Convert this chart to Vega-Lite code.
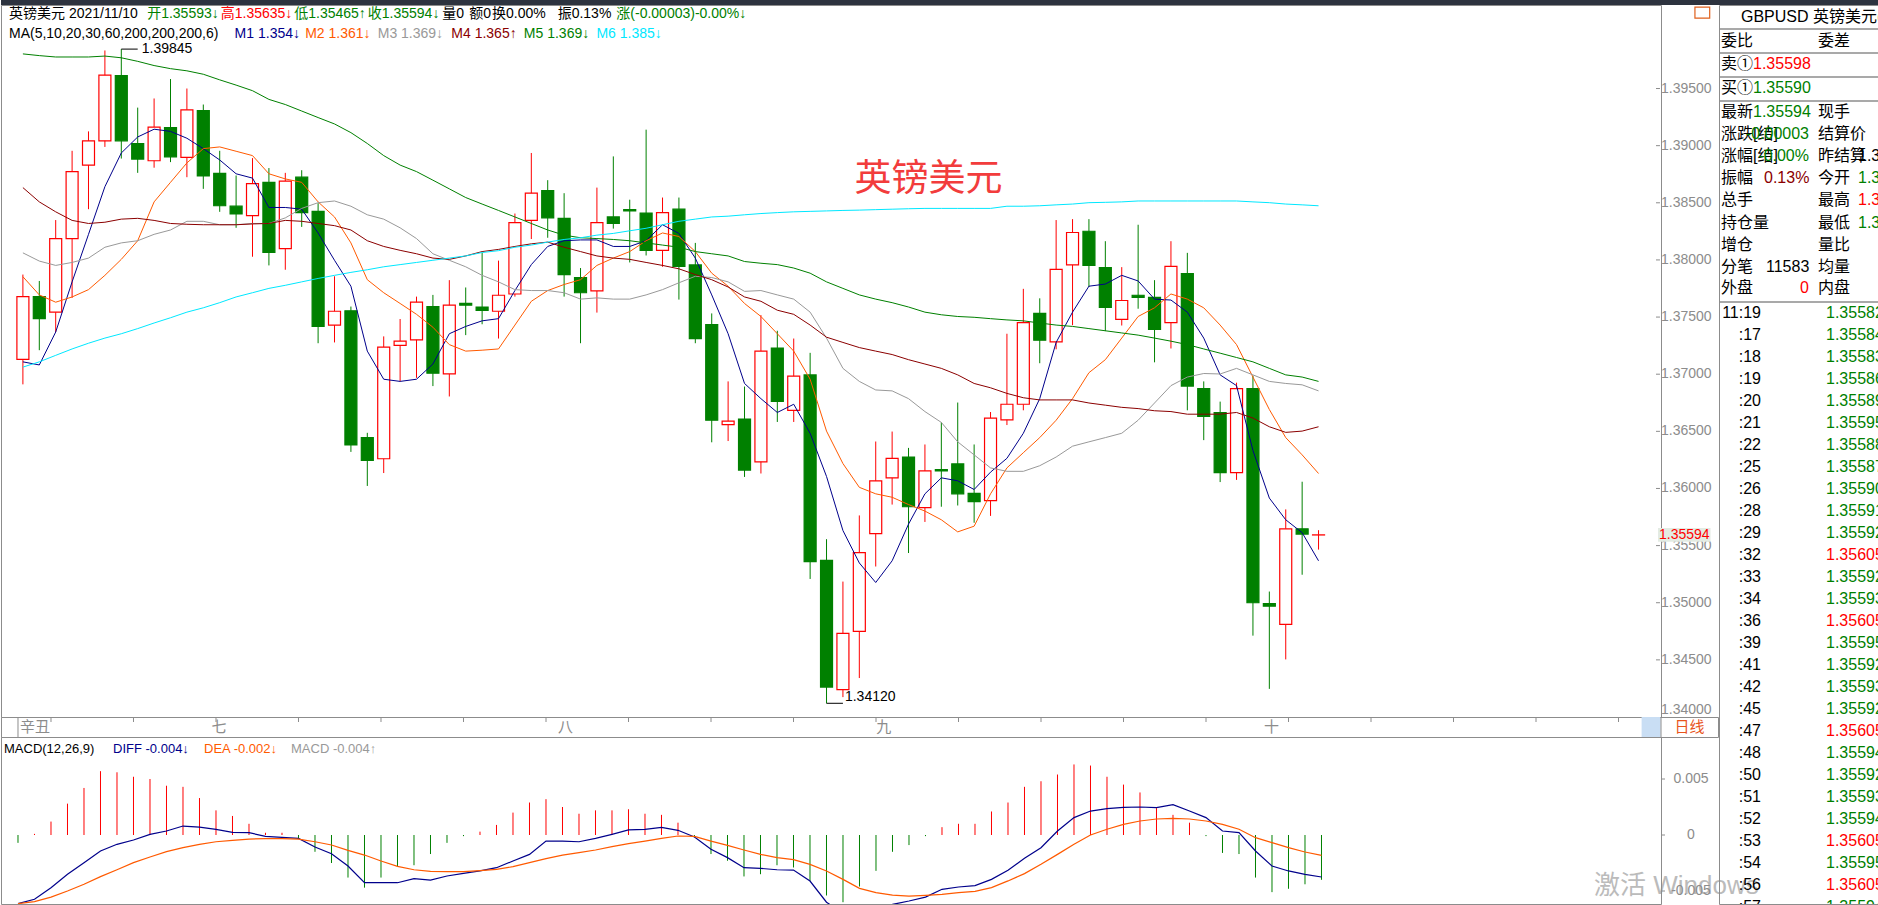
{
 "$schema": "https://vega.github.io/schema/vega-lite/v6.json",
 "padding": 0,
 "background": "#ffffff",
 "config": {
  "view": {"stroke": "#8c8c8c"},
  "font": "Liberation Sans, Noto Sans CJK SC",
  "text": {"font": "Liberation Sans, Noto Sans CJK SC"}
 },
 "datasets": {
  "k": [
   {"i":0,"o":1.37130,"h":1.37872,"l":1.36911,"c":1.37679,"m1":1.37108,"m2":1.37853,"m3":1.38062,"m4":1.38633,"m5":1.39803,"m6":1.37062,"macd":-0.0007,"dif":-0.00613,"dea":-0.00613},
   {"i":1,"o":1.37679,"h":1.37816,"l":1.37210,"c":1.37486,"m1":1.37081,"m2":1.37694,"m3":1.37990,"m4":1.38508,"m5":1.39788,"m6":1.37108,"macd":0.0001,"dif":-0.00574,"dea":-0.00595},
   {"i":2,"o":1.37543,"h":1.38349,"l":1.37369,"c":1.38187,"m1":1.37369,"m2":1.37630,"m3":1.37952,"m4":1.38421,"m5":1.39776,"m6":1.37165,"macd":0.0012,"dif":-0.0047,"dea":-0.00554},
   {"i":3,"o":1.38187,"h":1.38955,"l":1.37668,"c":1.38773,"m1":1.37808,"m2":1.37676,"m3":1.37978,"m4":1.38346,"m5":1.39776,"m6":1.37221,"macd":0.0028,"dif":-0.00351,"dea":-0.005},
   {"i":4,"o":1.38830,"h":1.39125,"l":1.38444,"c":1.39042,"m1":1.38224,"m2":1.37740,"m3":1.38016,"m4":1.38319,"m5":1.39776,"m6":1.37271,"macd":0.0042,"dif":-0.00247,"dea":-0.0044},
   {"i":5,"o":1.39042,"h":1.39833,"l":1.38989,"c":1.39617,"m1":1.38641,"m2":1.37865,"m3":1.38111,"m4":1.38330,"m5":1.39784,"m6":1.37316,"macd":0.0057,"dif":-0.00143,"dea":-0.00372},
   {"i":6,"o":1.39614,"h":1.39845,"l":1.38887,"c":1.39042,"m1":1.38936,"m2":1.38005,"m3":1.38149,"m4":1.38357,"m5":1.39769,"m6":1.37354,"macd":0.0056,"dif":-0.00083,"dea":-0.0031},
   {"i":7,"o":1.39019,"h":1.39333,"l":1.38762,"c":1.38883,"m1":1.39076,"m2":1.38168,"m3":1.38168,"m4":1.38364,"m5":1.39738,"m6":1.37399,"macd":0.0052,"dif":-0.00045,"dea":-0.00247},
   {"i":8,"o":1.38868,"h":1.39413,"l":1.38807,"c":1.39163,"m1":1.39144,"m2":1.38508,"m3":1.38224,"m4":1.38346,"m5":1.39701,"m6":1.37448,"macd":0.005,"dif":0.00006,"dea":-0.00196},
   {"i":9,"o":1.39159,"h":1.39583,"l":1.38856,"c":1.38902,"m1":1.39125,"m2":1.38679,"m3":1.38262,"m4":1.38319,"m5":1.39674,"m6":1.37494,"macd":0.0044,"dif":0.00036,"dea":-0.00149},
   {"i":10,"o":1.38898,"h":1.39500,"l":1.38724,"c":1.39314,"m1":1.39065,"m2":1.38849,"m3":1.38338,"m4":1.38312,"m5":1.39655,"m6":1.37543,"macd":0.0043,"dif":0.0008,"dea":-0.00113},
   {"i":11,"o":1.39307,"h":1.39360,"l":1.38622,"c":1.38735,"m1":1.38974,"m2":1.38974,"m3":1.38338,"m4":1.38308,"m5":1.39625,"m6":1.37581,"macd":0.0033,"dif":0.00071,"dea":-0.00083},
   {"i":12,"o":1.38758,"h":1.38955,"l":1.38421,"c":1.38474,"m1":1.38875,"m2":1.38989,"m3":1.38308,"m4":1.38308,"m5":1.39576,"m6":1.37626,"macd":0.0022,"dif":0.00051,"dea":-0.0006},
   {"i":13,"o":1.38470,"h":1.38739,"l":1.38281,"c":1.38402,"m1":1.38754,"m2":1.38951,"m3":1.38308,"m4":1.38308,"m5":1.39530,"m6":1.37676,"macd":0.0017,"dif":0.00024,"dea":-0.00048},
   {"i":14,"o":1.38387,"h":1.38891,"l":1.38028,"c":1.38667,"m1":1.38716,"m2":1.38913,"m3":1.38319,"m4":1.38315,"m5":1.39481,"m6":1.37713,"macd":0.001,"dif":0.00021,"dea":-0.00036},
   {"i":15,"o":1.38679,"h":1.38804,"l":1.37952,"c":1.38065,"m1":1.38459,"m2":1.38754,"m3":1.38319,"m4":1.38319,"m5":1.39405,"m6":1.37751,"macd":0.0002,"dif":-0.00012,"dea":-0.00033},
   {"i":16,"o":1.38099,"h":1.38762,"l":1.37914,"c":1.38690,"m1":1.38459,"m2":1.38709,"m3":1.38368,"m4":1.38346,"m5":1.39360,"m6":1.37778,"macd":0.0002,"dif":-0.00021,"dea":-0.00033},
   {"i":17,"o":1.38724,"h":1.38785,"l":1.38289,"c":1.38414,"m1":1.38444,"m2":1.38679,"m3":1.38451,"m4":1.38338,"m5":1.39303,"m6":1.37808,"macd":-0.0003,"dif":-0.0003,"dea":-0.00036},
   {"i":18,"o":1.38425,"h":1.38497,"l":1.37271,"c":1.37418,"m1":1.38236,"m2":1.38508,"m3":1.38501,"m4":1.38319,"m5":1.39246,"m6":1.37838,"macd":-0.0015,"dif":-0.00107,"dea":-0.0006},
   {"i":19,"o":1.37430,"h":1.37857,"l":1.37278,"c":1.37551,"m1":1.37997,"m2":1.38376,"m3":1.38516,"m4":1.38300,"m5":1.39190,"m6":1.37865,"macd":-0.0025,"dif":-0.00167,"dea":-0.00089},
   {"i":20,"o":1.37555,"h":1.37592,"l":1.36320,"c":1.36381,"m1":1.37770,"m2":1.38149,"m3":1.38470,"m4":1.38262,"m5":1.39114,"m6":1.37891,"macd":-0.0038,"dif":-0.00277,"dea":-0.00137},
   {"i":21,"o":1.36445,"h":1.36487,"l":1.36022,"c":1.36245,"m1":1.37202,"m2":1.37827,"m3":1.38395,"m4":1.38168,"m5":1.39019,"m6":1.37914,"macd":-0.0047,"dif":-0.00426,"dea":-0.00179},
   {"i":22,"o":1.36260,"h":1.37331,"l":1.36135,"c":1.37237,"m1":1.36956,"m2":1.37713,"m3":1.38357,"m4":1.38118,"m5":1.38913,"m6":1.37940,"macd":-0.0038,"dif":-0.00426,"dea":-0.00232},
   {"i":23,"o":1.37252,"h":1.37483,"l":1.36937,"c":1.37290,"m1":1.36937,"m2":1.37619,"m3":1.38281,"m4":1.38084,"m5":1.38830,"m6":1.37959,"macd":-0.0028,"dif":-0.00426,"dea":-0.0028},
   {"i":24,"o":1.37301,"h":1.37679,"l":1.36968,"c":1.37630,"m1":1.36956,"m2":1.37524,"m3":1.38187,"m4":1.38054,"m5":1.38773,"m6":1.37978,"macd":-0.0027,"dif":-0.0039,"dea":-0.0031},
   {"i":25,"o":1.37592,"h":1.37694,"l":1.36896,"c":1.37009,"m1":1.37089,"m2":1.37411,"m3":1.38054,"m4":1.38016,"m5":1.38698,"m6":1.37997,"macd":-0.0017,"dif":-0.00402,"dea":-0.00324},
   {"i":26,"o":1.37002,"h":1.37823,"l":1.36805,"c":1.37604,"m1":1.37354,"m2":1.37259,"m3":1.37997,"m4":1.38005,"m5":1.38622,"m6":1.38016,"macd":-0.0007,"dif":-0.00366,"dea":-0.00327},
   {"i":27,"o":1.37619,"h":1.37759,"l":1.37342,"c":1.37604,"m1":1.37418,"m2":1.37202,"m3":1.37940,"m4":1.38035,"m5":1.38546,"m6":1.38035,"macd":-0.0001,"dif":-0.00342,"dea":-0.00327},
   {"i":28,"o":1.37588,"h":1.38062,"l":1.37437,"c":1.37558,"m1":1.37467,"m2":1.37210,"m3":1.37865,"m4":1.38073,"m5":1.38489,"m6":1.38065,"macd":0.0003,"dif":-0.00321,"dea":-0.00318},
   {"i":29,"o":1.37551,"h":1.37994,"l":1.37312,"c":1.37691,"m1":1.37486,"m2":1.37221,"m3":1.37808,"m4":1.38092,"m5":1.38433,"m6":1.38081,"macd":0.0009,"dif":-0.00292,"dea":-0.00307},
   {"i":30,"o":1.37702,"h":1.38406,"l":1.37679,"c":1.38327,"m1":1.37732,"m2":1.37430,"m3":1.37740,"m4":1.38118,"m5":1.38376,"m6":1.38111,"macd":0.002,"dif":-0.00232,"dea":-0.00283},
   {"i":31,"o":1.38346,"h":1.38936,"l":1.38183,"c":1.38584,"m1":1.37959,"m2":1.37638,"m3":1.37732,"m4":1.38141,"m5":1.38319,"m6":1.38130,"macd":0.0029,"dif":-0.00173,"dea":-0.00247},
   {"i":32,"o":1.38607,"h":1.38698,"l":1.38194,"c":1.38368,"m1":1.38118,"m2":1.37732,"m3":1.37732,"m4":1.38156,"m5":1.38262,"m6":1.38156,"macd":0.0032,"dif":-0.00054,"dea":-0.00211},
   {"i":33,"o":1.38364,"h":1.38584,"l":1.37679,"c":1.37872,"m1":1.38168,"m2":1.37785,"m3":1.37713,"m4":1.38111,"m5":1.38217,"m6":1.38179,"macd":0.0025,"dif":-0.00054,"dea":-0.00179},
   {"i":34,"o":1.37846,"h":1.37929,"l":1.37271,"c":1.37713,"m1":1.38175,"m2":1.37827,"m3":1.37657,"m4":1.38073,"m5":1.38194,"m6":1.38194,"macd":0.0019,"dif":-0.0006,"dea":-0.00158},
   {"i":35,"o":1.37729,"h":1.38633,"l":1.37539,"c":1.38327,"m1":1.38175,"m2":1.37952,"m3":1.37668,"m4":1.38035,"m5":1.38187,"m6":1.38217,"macd":0.0022,"dif":-0.0003,"dea":-0.00134},
   {"i":36,"o":1.38376,"h":1.38906,"l":1.38274,"c":1.38319,"m1":1.38118,"m2":1.38016,"m3":1.37657,"m4":1.38016,"m5":1.38179,"m6":1.38232,"macd":0.0022,"dif":0.00006,"dea":-0.00104},
   {"i":37,"o":1.38440,"h":1.38527,"l":1.37978,"c":1.38429,"m1":1.38118,"m2":1.38073,"m3":1.37657,"m4":1.38005,"m5":1.38168,"m6":1.38255,"macd":0.0023,"dif":0.00045,"dea":-0.00077},
   {"i":38,"o":1.38410,"h":1.39140,"l":1.38039,"c":1.38084,"m1":1.38168,"m2":1.38168,"m3":1.37694,"m4":1.37978,"m5":1.38149,"m6":1.38277,"macd":0.0019,"dif":0.00051,"dea":-0.00054},
   {"i":39,"o":1.38084,"h":1.38546,"l":1.37940,"c":1.38414,"m1":1.38308,"m2":1.38236,"m3":1.37740,"m4":1.37952,"m5":1.38130,"m6":1.38308,"macd":0.0018,"dif":0.00068,"dea":-0.0003},
   {"i":40,"o":1.38444,"h":1.38546,"l":1.37653,"c":1.37944,"m1":1.38232,"m2":1.38205,"m3":1.37800,"m4":1.37922,"m5":1.38111,"m6":1.38338,"macd":0.0011,"dif":0.00042,"dea":-0.00009},
   {"i":41,"o":1.37956,"h":1.38149,"l":1.37271,"c":1.37312,"m1":1.38016,"m2":1.38073,"m3":1.37857,"m4":1.37872,"m5":1.38073,"m6":1.38357,"macd":-0.0002,"dif":-0.00018,"dea":-0.00012},
   {"i":42,"o":1.37433,"h":1.37532,"l":1.36404,"c":1.36597,"m1":1.37694,"m2":1.37884,"m3":1.37846,"m4":1.37827,"m5":1.38054,"m6":1.38376,"macd":-0.0017,"dif":-0.00128,"dea":-0.00054},
   {"i":43,"o":1.36559,"h":1.36937,"l":1.36415,"c":1.36589,"m1":1.37354,"m2":1.37770,"m3":1.37808,"m4":1.37763,"m5":1.38035,"m6":1.38383,"macd":-0.0023,"dif":-0.00202,"dea":-0.00092},
   {"i":44,"o":1.36608,"h":1.36892,"l":1.36101,"c":1.36161,"m1":1.36919,"m2":1.37619,"m3":1.37725,"m4":1.37676,"m5":1.37986,"m6":1.38395,"macd":-0.0037,"dif":-0.00292,"dea":-0.00134},
   {"i":45,"o":1.36233,"h":1.37517,"l":1.36131,"c":1.37202,"m1":1.36786,"m2":1.37505,"m3":1.37732,"m4":1.37638,"m5":1.37971,"m6":1.38406,"macd":-0.0035,"dif":-0.00298,"dea":-0.00173},
   {"i":46,"o":1.37229,"h":1.37380,"l":1.36582,"c":1.36763,"m1":1.36665,"m2":1.37354,"m3":1.37694,"m4":1.37560,"m5":1.37959,"m6":1.38414,"macd":-0.0027,"dif":-0.0031,"dea":-0.00202},
   {"i":47,"o":1.36684,"h":1.37312,"l":1.36582,"c":1.36983,"m1":1.36737,"m2":1.37202,"m3":1.37657,"m4":1.37524,"m5":1.37929,"m6":1.38421,"macd":-0.0029,"dif":-0.00313,"dea":-0.0022},
   {"i":48,"o":1.36994,"h":1.37187,"l":1.35208,"c":1.35359,"m1":1.36483,"m2":1.36956,"m3":1.37543,"m4":1.37430,"m5":1.37884,"m6":1.38425,"macd":-0.0041,"dif":-0.00411,"dea":-0.00262},
   {"i":49,"o":1.35370,"h":1.35556,"l":1.34120,"c":1.34262,"m1":1.36105,"m2":1.36502,"m3":1.37316,"m4":1.37324,"m5":1.37808,"m6":1.38429,"macd":-0.0054,"dif":-0.0060,"dea":-0.00321},
   {"i":50,"o":1.34239,"h":1.35185,"l":1.34174,"c":1.34731,"m1":1.35632,"m2":1.36218,"m3":1.37051,"m4":1.37278,"m5":1.37751,"m6":1.38433,"macd":-0.006,"dif":-0.0070,"dea":-0.00396},
   {"i":51,"o":1.34750,"h":1.35764,"l":1.34341,"c":1.35439,"m1":1.35348,"m2":1.36010,"m3":1.36937,"m4":1.37233,"m5":1.37694,"m6":1.38436,"macd":-0.0046,"dif":-0.0071,"dea":-0.00476},
   {"i":52,"o":1.35605,"h":1.36411,"l":1.35317,"c":1.36067,"m1":1.35177,"m2":1.35953,"m3":1.36862,"m4":1.37202,"m5":1.37657,"m6":1.38440,"macd":-0.0032,"dif":-0.0068,"dea":-0.00515},
   {"i":53,"o":1.36093,"h":1.36498,"l":1.35859,"c":1.36264,"m1":1.35367,"m2":1.35923,"m3":1.36854,"m4":1.37172,"m5":1.37626,"m6":1.38444,"macd":-0.0015,"dif":-0.0062,"dea":-0.00536},
   {"i":54,"o":1.36275,"h":1.36355,"l":1.35435,"c":1.35840,"m1":1.35688,"m2":1.35859,"m3":1.36786,"m4":1.37127,"m5":1.37588,"m6":1.38448,"macd":-0.0009,"dif":-0.00589,"dea":-0.00545},
   {"i":55,"o":1.35832,"h":1.36385,"l":1.35707,"c":1.36154,"m1":1.35953,"m2":1.35802,"m3":1.36673,"m4":1.37089,"m5":1.37543,"m6":1.38451,"macd":-0.0001,"dif":-0.00554,"dea":-0.00539},
   {"i":56,"o":1.36165,"h":1.36578,"l":1.35840,"c":1.36154,"m1":1.36093,"m2":1.35726,"m3":1.36578,"m4":1.37051,"m5":1.37520,"m6":1.38451,"macd":0.0007,"dif":-0.00485,"dea":-0.0053},
   {"i":57,"o":1.36215,"h":1.36752,"l":1.35851,"c":1.35953,"m1":1.36067,"m2":1.35620,"m3":1.36408,"m4":1.36994,"m5":1.37505,"m6":1.38451,"macd":0.001,"dif":-0.00464,"dea":-0.00515},
   {"i":58,"o":1.35957,"h":1.36385,"l":1.35700,"c":1.35885,"m1":1.35991,"m2":1.35670,"m3":1.36294,"m4":1.36919,"m5":1.37498,"m6":1.38451,"macd":0.001,"dif":-0.00452,"dea":-0.00503},
   {"i":59,"o":1.35893,"h":1.36669,"l":1.35760,"c":1.36616,"m1":1.36143,"m2":1.35953,"m3":1.36180,"m4":1.36881,"m5":1.37486,"m6":1.38451,"macd":0.0021,"dif":-0.00396,"dea":-0.0047},
   {"i":60,"o":1.36601,"h":1.37354,"l":1.36555,"c":1.36737,"m1":1.36264,"m2":1.36180,"m3":1.36150,"m4":1.36832,"m5":1.37475,"m6":1.38470,"macd":0.0029,"dif":-0.00315,"dea":-0.0041},
   {"i":61,"o":1.36737,"h":1.37747,"l":1.36684,"c":1.37452,"m1":1.36483,"m2":1.36313,"m3":1.36150,"m4":1.36794,"m5":1.37467,"m6":1.38470,"macd":0.0043,"dif":-0.00208,"dea":-0.00345},
   {"i":62,"o":1.37532,"h":1.37664,"l":1.37096,"c":1.37297,"m1":1.36786,"m2":1.36445,"m3":1.36199,"m4":1.36775,"m5":1.37448,"m6":1.38474,"macd":0.0048,"dif":-0.00113,"dea":-0.00262},
   {"i":63,"o":1.37282,"h":1.38349,"l":1.37218,"c":1.37918,"m1":1.37278,"m2":1.36597,"m3":1.36275,"m4":1.36775,"m5":1.37430,"m6":1.38482,"macd":0.0054,"dif":0.00036,"dea":-0.00173},
   {"i":64,"o":1.37956,"h":1.38357,"l":1.37429,"c":1.38240,"m1":1.37543,"m2":1.36786,"m3":1.36370,"m4":1.36775,"m5":1.37418,"m6":1.38489,"macd":0.0063,"dif":0.00155,"dea":-0.00083},
   {"i":65,"o":1.38251,"h":1.38357,"l":1.37763,"c":1.37952,"m1":1.37770,"m2":1.37013,"m3":1.36408,"m4":1.36748,"m5":1.37399,"m6":1.38501,"macd":0.0062,"dif":0.00214,"dea":0.0},
   {"i":66,"o":1.37933,"h":1.38164,"l":1.37377,"c":1.37585,"m1":1.37789,"m2":1.37127,"m3":1.36445,"m4":1.36729,"m5":1.37380,"m6":1.38504,"macd":0.0052,"dif":0.00235,"dea":0.00051},
   {"i":67,"o":1.37479,"h":1.37937,"l":1.37426,"c":1.37645,"m1":1.37865,"m2":1.37316,"m3":1.36483,"m4":1.36710,"m5":1.37361,"m6":1.38508,"macd":0.0045,"dif":0.00247,"dea":0.00095},
   {"i":68,"o":1.37691,"h":1.38308,"l":1.37573,"c":1.37672,"m1":1.37816,"m2":1.37505,"m3":1.36597,"m4":1.36699,"m5":1.37342,"m6":1.38516,"macd":0.0038,"dif":0.0025,"dea":0.00125},
   {"i":69,"o":1.37672,"h":1.37823,"l":1.37104,"c":1.37392,"m1":1.37657,"m2":1.37581,"m3":1.36748,"m4":1.36680,"m5":1.37316,"m6":1.38516,"macd":0.0024,"dif":0.00244,"dea":0.00143},
   {"i":70,"o":1.37452,"h":1.38164,"l":1.37225,"c":1.37944,"m1":1.37649,"m2":1.37702,"m3":1.36900,"m4":1.36673,"m5":1.37289,"m6":1.38516,"macd":0.0018,"dif":0.00271,"dea":0.00149},
   {"i":71,"o":1.37880,"h":1.38062,"l":1.36684,"c":1.36896,"m1":1.37543,"m2":1.37657,"m3":1.36975,"m4":1.36650,"m5":1.37259,"m6":1.38516,"macd":0.0011,"dif":0.00214,"dea":0.00143},
   {"i":72,"o":1.36873,"h":1.36937,"l":1.36423,"c":1.36631,"m1":1.37316,"m2":1.37581,"m3":1.37006,"m4":1.36650,"m5":1.37221,"m6":1.38516,"macd":-0.0001,"dif":0.00155,"dea":0.00125},
   {"i":73,"o":1.36665,"h":1.36760,"l":1.36056,"c":1.36139,"m1":1.36994,"m2":1.37430,"m3":1.37002,"m4":1.36650,"m5":1.37184,"m6":1.38516,"macd":-0.0016,"dif":0.00036,"dea":0.00095},
   {"i":74,"o":1.36139,"h":1.36926,"l":1.36075,"c":1.36873,"m1":1.36900,"m2":1.37259,"m3":1.37051,"m4":1.36665,"m5":1.37146,"m6":1.38516,"macd":-0.0017,"dif":0.00021,"dea":0.00051},
   {"i":75,"o":1.36873,"h":1.36987,"l":1.34712,"c":1.35000,"m1":1.36332,"m2":1.36975,"m3":1.36994,"m4":1.36616,"m5":1.37108,"m6":1.38508,"macd":-0.0038,"dif":-0.00143,"dea":-0.00024},
   {"i":76,"o":1.34992,"h":1.35098,"l":1.34246,"c":1.34970,"m1":1.35916,"m2":1.36691,"m3":1.36937,"m4":1.36540,"m5":1.37051,"m6":1.38501,"macd":-0.0051,"dif":-0.00277,"dea":-0.00068},
   {"i":77,"o":1.34810,"h":1.35817,"l":1.34504,"c":1.35647,"m1":1.35726,"m2":1.36445,"m3":1.36919,"m4":1.36491,"m5":1.36994,"m6":1.38489,"macd":-0.0048,"dif":-0.00321,"dea":-0.00113},
   {"i":78,"o":1.35647,"h":1.36059,"l":1.35245,"c":1.35601,"m1":1.35613,"m2":1.36294,"m3":1.36907,"m4":1.36502,"m5":1.36975,"m6":1.38482,"macd":-0.0044,"dif":-0.00351,"dea":-0.00152},
   {"i":79,"o":1.35593,"h":1.35635,"l":1.35465,"c":1.35594,"m1":1.35367,"m2":1.36131,"m3":1.36854,"m4":1.36540,"m5":1.36937,"m6":1.38474,"macd":-0.004,"dif":-0.00375,"dea":-0.00182}
  ],
  "yax": [
   {"v":1.345,"t":"1.34500"},{"v":1.35,"t":"1.35000"},{"v":1.355,"t":"1.35500"},{"v":1.36,"t":"1.36000"},
   {"v":1.365,"t":"1.36500"},{"v":1.37,"t":"1.37000"},{"v":1.375,"t":"1.37500"},{"v":1.38,"t":"1.38000"},
   {"v":1.385,"t":"1.38500"},{"v":1.39,"t":"1.39000"},{"v":1.395,"t":"1.39500"}
  ],
  "max": [
   {"v":0.005,"t":"0.005"},{"v":0,"t":"0"},{"v":-0.005,"t":"-0.005"}
  ],
  "xt": [
   {"i":2},{"i":7},{"i":12},{"i":17},{"i":22},{"i":27},{"i":32},{"i":37},{"i":42},{"i":47},
   {"i":52},{"i":57},{"i":62},{"i":67},{"i":72},{"i":77},{"i":82},{"i":87},{"i":92},{"i":97}
  ],
  "hdr": [
   {"hx":-0.848,"hy":1.40152,"t":"英镑美元 2021/11/10","k":"blk"},
   {"hx":7.576,"hy":1.40152,"t":"开1.35593↓","k":"dn"},
   {"hx":12.061,"hy":1.40152,"t":"高1.35635↓","k":"up"},
   {"hx":16.545,"hy":1.40152,"t":"低1.35465↑","k":"dn"},
   {"hx":21.030,"hy":1.40152,"t":"收1.35594↓","k":"dn"},
   {"hx":25.576,"hy":1.40152,"t":"量0","k":"blk"},
   {"hx":27.212,"hy":1.40152,"t":"额0","k":"blk"},
   {"hx":28.606,"hy":1.40152,"t":"换0.00%","k":"blk"},
   {"hx":32.606,"hy":1.40152,"t":"振0.13%","k":"blk"},
   {"hx":36.182,"hy":1.40152,"t":"涨(-0.00003)-0.00%↓","k":"dn"},
   {"hx":-0.848,"hy":1.39977,"t":"MA(5,10,20,30,60,200,200,200,6)","k":"blk"},
   {"hx":12.909,"hy":1.39977,"t":"M1 1.354↓","k":"m1"},
   {"hx":17.212,"hy":1.39977,"t":"M2 1.361↓","k":"m2"},
   {"hx":21.636,"hy":1.39977,"t":"M3 1.369↓","k":"m3"},
   {"hx":26.121,"hy":1.39977,"t":"M4 1.365↑","k":"m4"},
   {"hx":30.545,"hy":1.39977,"t":"M5 1.369↓","k":"m5"},
   {"hx":34.970,"hy":1.39977,"t":"M6 1.385↓","k":"m6"}
  ],
  "mhdr": [
   {"hx":-0.848,"hy":0.00768,"t":"MACD(12,26,9)","k":"blk"},
   {"hx":5.758,"hy":0.00768,"t":"DIFF -0.004↓","k":"dif"},
   {"hx":11.273,"hy":0.00768,"t":"DEA -0.002↓","k":"dea"},
   {"hx":16.545,"hy":0.00768,"t":"MACD -0.004↑","k":"gry"}
  ],
  "months": [
   {"i":0,"lab":"辛丑"},
   {"i":11.6,"lab":"七"},
   {"i":32.6,"lab":"八"},
   {"i":51.9,"lab":"九"},
   {"i":75.4,"lab":"十"}
  ],
  "pl": [
   {"x":22,"y":12,"t":"GBPUSD 英镑美元(","k":"blk"},
   {"x":2,"y":36,"t":"委比","k":"blk"},
   {"x":99,"y":36,"t":"委差","k":"blk"},
   {"x":2,"y":59,"t":"卖①","k":"blk"},
   {"x":34,"y":59,"t":"1.35598","k":"up"},
   {"x":2,"y":83,"t":"买①","k":"blk"},
   {"x":34,"y":83,"t":"1.35590","k":"dn"},
   {"x":2,"y":107,"t":"最新","k":"blk"},
   {"x":34,"y":107,"t":"1.35594","k":"dn"},
   {"x":99,"y":107,"t":"现手","k":"blk"},
   {"x":2,"y":129,"t":"涨跌[结]","k":"blk"},
   {"x":99,"y":129,"t":"结算价","k":"blk"},
   {"x":2,"y":151,"t":"涨幅[结]","k":"blk"},
   {"x":99,"y":151,"t":"昨结算","k":"blk"},
   {"x":139,"y":151,"t":"1.35597","k":"blk"},
   {"x":2,"y":173,"t":"振幅","k":"blk"},
   {"x":45,"y":173,"t":"0.13%","k":"nv"},
   {"x":99,"y":173,"t":"今开","k":"blk"},
   {"x":139,"y":173,"t":"1.35593","k":"dn"},
   {"x":2,"y":195,"t":"总手","k":"blk"},
   {"x":99,"y":195,"t":"最高","k":"blk"},
   {"x":139,"y":195,"t":"1.35635","k":"up"},
   {"x":2,"y":218,"t":"持仓量","k":"blk"},
   {"x":99,"y":218,"t":"最低","k":"blk"},
   {"x":139,"y":218,"t":"1.35465","k":"dn"},
   {"x":2,"y":240,"t":"增仓","k":"blk"},
   {"x":99,"y":240,"t":"量比","k":"blk"},
   {"x":2,"y":262,"t":"分笔","k":"blk"},
   {"x":47,"y":262,"t":"11583","k":"blk"},
   {"x":99,"y":262,"t":"均量","k":"blk"},
   {"x":2,"y":283,"t":"外盘","k":"blk"},
   {"x":99,"y":283,"t":"内盘","k":"blk"}
  ],
  "pr": [
   {"x":90,"y":129,"t":"-0.00003","k":"dn"},
   {"x":90,"y":151,"t":"-0.00%","k":"dn"},
   {"x":90,"y":283,"t":"0","k":"up"}
  ],
  "ticks": [
   {"y":308,"tm":"11:19","p":"1.35582","k":"dn"},
   {"y":330,"tm":":17","p":"1.35584","k":"dn"},
   {"y":352,"tm":":18","p":"1.35583","k":"dn"},
   {"y":374,"tm":":19","p":"1.35586","k":"dn"},
   {"y":396,"tm":":20","p":"1.35589","k":"dn"},
   {"y":418,"tm":":21","p":"1.35595","k":"dn"},
   {"y":440,"tm":":22","p":"1.35588","k":"dn"},
   {"y":462,"tm":":25","p":"1.35587","k":"dn"},
   {"y":484,"tm":":26","p":"1.35590","k":"dn"},
   {"y":506,"tm":":28","p":"1.35591","k":"dn"},
   {"y":528,"tm":":29","p":"1.35592","k":"dn"},
   {"y":550,"tm":":32","p":"1.35605","k":"up"},
   {"y":572,"tm":":33","p":"1.35592","k":"dn"},
   {"y":594,"tm":":34","p":"1.35593","k":"dn"},
   {"y":616,"tm":":36","p":"1.35605","k":"up"},
   {"y":638,"tm":":39","p":"1.35595","k":"dn"},
   {"y":660,"tm":":41","p":"1.35592","k":"dn"},
   {"y":682,"tm":":42","p":"1.35593","k":"dn"},
   {"y":704,"tm":":45","p":"1.35592","k":"dn"},
   {"y":726,"tm":":47","p":"1.35605","k":"up"},
   {"y":748,"tm":":48","p":"1.35594","k":"dn"},
   {"y":770,"tm":":50","p":"1.35592","k":"dn"},
   {"y":792,"tm":":51","p":"1.35593","k":"dn"},
   {"y":814,"tm":":52","p":"1.35594","k":"dn"},
   {"y":836,"tm":":53","p":"1.35605","k":"up"},
   {"y":858,"tm":":54","p":"1.35595","k":"dn"},
   {"y":880,"tm":":56","p":"1.35605","k":"up"},
   {"y":902,"tm":":57","p":"1.35594","k":"dn"}
  ]
 },
 "bounds": "flush",
 "spacing": 0,
 "vconcat": [
  {
   "width": 1878, "height": 5,
   "view": {"stroke": null, "fill": "#2d333f"},
   "data": {"values": [{"x": 1593, "y": 886, "t": "激活 Windows"}]},
   "layer": [
    {
     "mark": {"type": "rect", "color": "#2d333f"},
     "encoding": {}
    },
    {
     "mark": {"type": "text", "align": "left", "baseline": "middle", "fontSize": 26, "color": "#8f8f8f", "opacity": 0.6},
     "encoding": {
      "x": {"field": "x", "type": "quantitative", "scale": {"domain": [0, 1878], "nice": false, "zero": false}, "axis": null},
      "y": {"field": "y", "type": "quantitative", "scale": {"domain": [0, 5], "reverse": true, "nice": false, "zero": false}, "axis": null},
      "text": {"field": "t"}
     }
    }
   ]
  },
  {
   "bounds": "full",
   "spacing": -3,
   "hconcat": [
    {
     "bounds": "flush",
     "spacing": 0,
     "vconcat": [
      {
       "width": 1660, "height": 712,
       "data": {"name": "k"},
       "layer": [
        {
         "mark": {"type": "rule", "strokeWidth": 1},
         "encoding": {
          "x": {"field": "i", "type": "quantitative", "scale": {"domain": [-1.0303, 99.5758], "nice": false, "zero": false}, "axis": null},
          "y": {"field": "l", "type": "quantitative", "scale": {"domain": [1.34, 1.40231], "nice": false, "zero": false}, "axis": null},
          "y2": {"field": "h"},
          "color": {"condition": {"test": "datum.c > datum.o", "value": "#ff0000"}, "value": "#008000"}
         }
        },
        {
         "mark": {"type": "bar", "width": 12, "strokeWidth": 1.2, "orient": "vertical"},
         "encoding": {
          "x": {"field": "i", "type": "quantitative", "axis": null},
          "y": {"field": "o", "type": "quantitative", "axis": null},
          "y2": {"field": "c"},
          "fill": {"condition": {"test": "datum.c > datum.o", "value": "#ffffff"}, "value": "#008000"},
          "stroke": {"condition": {"test": "datum.c > datum.o", "value": "#ff0000"}, "value": "#008000"}
         }
        },
        {
         "transform": [{"fold": ["m1","m2","m3","m4","m5","m6"], "as": ["ma","v"]}],
         "mark": {"type": "line", "strokeWidth": 1},
         "encoding": {
          "x": {"field": "i", "type": "quantitative", "axis": null},
          "y": {"field": "v", "type": "quantitative", "axis": null},
          "color": {"field": "ma", "type": "nominal", "scale": {"domain": ["m1","m2","m3","m4","m5","m6","blk","up","dn"], "range": ["#00008b","#ff5a00","#999999","#8b0000","#008000","#00e8ff","#000000","#ff0000","#008000"]}, "legend": null}
         }
        },
        {
         "data": {"values": [{"i":6,"i2":7,"p":1.39845},{"i":49,"i2":50,"p":1.3412}]},
         "mark": {"type": "rule", "color": "#000000", "strokeWidth": 1},
         "encoding": {
          "x": {"field": "i", "type": "quantitative", "axis": null},
          "x2": {"field": "i2"},
          "y": {"field": "p", "type": "quantitative", "axis": null}
         }
        },
        {
         "data": {"values": [{"i2":7,"p":1.39845,"t":"1.39845"}]},
         "mark": {"type": "text", "align": "left", "baseline": "middle", "dx": 4, "fontSize": 14, "color": "#000000"},
         "encoding": {
          "x": {"field": "i2", "type": "quantitative", "axis": null},
          "y": {"field": "p", "type": "quantitative", "axis": null},
          "text": {"field": "t"}
         }
        },
        {
         "data": {"values": [{"i2":50,"p":1.3412,"t":"1.34120"}]},
         "mark": {"type": "text", "align": "left", "baseline": "bottom", "dx": 2, "dy": 1, "fontSize": 14, "color": "#000000"},
         "encoding": {
          "x": {"field": "i2", "type": "quantitative", "axis": null},
          "y": {"field": "p", "type": "quantitative", "axis": null},
          "text": {"field": "t"}
         }
        },
        {
         "data": {"name": "yax"},
         "mark": {"type": "rule", "color": "#8c8c8c", "strokeWidth": 1},
         "encoding": {
          "x": {"datum": 99.576, "type": "quantitative", "axis": null},
          "x2": {"datum": 99.818},
          "y": {"field": "v", "type": "quantitative", "axis": null}
         }
        },
        {
         "data": {"name": "yax"},
         "mark": {"type": "text", "align": "left", "baseline": "middle", "fontSize": 14, "color": "#8c8c8c", "font": "Liberation Sans"},
         "encoding": {
          "x": {"datum": 99.879, "type": "quantitative", "axis": null},
          "y": {"field": "v", "type": "quantitative", "axis": null},
          "text": {"field": "t"}
         }
        },
        {
         "data": {"values": [{"v": 1.34, "t": "1.34000"}]},
         "mark": {"type": "text", "align": "left", "baseline": "bottom", "fontSize": 14, "color": "#8c8c8c", "font": "Liberation Sans"},
         "encoding": {
          "x": {"datum": 99.879, "type": "quantitative", "axis": null},
          "y": {"field": "v", "type": "quantitative", "axis": null},
          "text": {"field": "t"}
         }
        },
        {
         "data": {"values": [{"a": 99.7, "b": 102.9, "lo": 1.35533, "hi": 1.35655}]},
         "mark": {"type": "rect", "color": "#e3ebe3"},
         "encoding": {
          "x": {"field": "a", "type": "quantitative", "axis": null},
          "x2": {"field": "b"},
          "y": {"field": "lo", "type": "quantitative", "axis": null},
          "y2": {"field": "hi"}
         }
        },
        {
         "data": {"values": [{"a": 101.95, "b": 102.85, "lo": 1.40117, "hi": 1.40213}]},
         "mark": {"type": "rect", "fill": null, "fillOpacity": 0, "stroke": "#e0601c", "strokeWidth": 1.2},
         "encoding": {
          "x": {"field": "a", "type": "quantitative", "axis": null},
          "x2": {"field": "b"},
          "y": {"field": "lo", "type": "quantitative", "axis": null},
          "y2": {"field": "hi"}
         }
        },
        {
         "data": {"values": [{"a": 99.7, "p": 1.35594, "t": "1.35594"}]},
         "mark": {"type": "text", "align": "left", "baseline": "middle", "dx": 1, "fontSize": 14, "color": "#ff0000", "font": "Liberation Sans"},
         "encoding": {
          "x": {"field": "a", "type": "quantitative", "axis": null},
          "y": {"field": "p", "type": "quantitative", "axis": null},
          "text": {"field": "t"}
         }
        },
        {
         "data": {"name": "hdr"},
         "mark": {"type": "text", "align": "left", "baseline": "middle", "fontSize": 14},
         "encoding": {
          "x": {"field": "hx", "type": "quantitative", "axis": null},
          "y": {"field": "hy", "type": "quantitative", "axis": null},
          "text": {"field": "t"},
          "color": {"field": "k", "type": "nominal", "scale": {"domain": ["m1","m2","m3","m4","m5","m6","blk","up","dn"], "range": ["#00008b","#ff5a00","#999999","#8b0000","#008000","#00e8ff","#000000","#ff0000","#008000"]}, "legend": null}
         }
        },
        {
         "data": {"values": [{"hx": 55.212, "hy": 1.387, "t": "英镑美元"}]},
         "mark": {"type": "text", "align": "center", "baseline": "middle", "fontSize": 37, "color": "#f23c3c", "font": "Noto Sans CJK SC"},
         "encoding": {
          "x": {"field": "hx", "type": "quantitative", "axis": null},
          "y": {"field": "hy", "type": "quantitative", "axis": null},
          "text": {"field": "t"}
         }
        }
       ]
      },
      {
       "width": 1717, "height": 20,
       "layer": [
        {
         "data": {"values": [{"a": 98.4, "b": 99.55}]},
         "mark": {"type": "rect", "color": "#c9def4"},
         "encoding": {
          "x": {"field": "a", "type": "quantitative", "scale": {"domain": [-1.0303, 103.0303], "nice": false, "zero": false}, "axis": null},
          "x2": {"field": "b"}
         }
        },
        {
         "data": {"values": [{"a": 0}, {"a": 99.576}]},
         "mark": {"type": "rule", "color": "#8c8c8c", "strokeWidth": 1},
         "encoding": {
          "x": {"field": "a", "type": "quantitative", "axis": null}
         }
        },
        {
         "data": {"name": "xt"},
         "mark": {"type": "rule", "color": "#8c8c8c", "strokeWidth": 1},
         "encoding": {
          "x": {"field": "i", "type": "quantitative", "axis": null},
          "y": {"datum": 0, "type": "quantitative", "scale": {"domain": [0, 20], "reverse": true, "nice": false, "zero": false}, "axis": null},
          "y2": {"datum": 5}
         }
        },
        {
         "data": {"name": "months"},
         "mark": {"type": "text", "align": "left", "baseline": "middle", "dx": 2, "fontSize": 15, "color": "#8c8c8c", "font": "Noto Sans CJK SC"},
         "encoding": {
          "x": {"field": "i", "type": "quantitative", "axis": null},
          "text": {"field": "lab"}
         }
        },
        {
         "data": {"values": [{"a": 101.3, "lab": "日线"}]},
         "mark": {"type": "text", "align": "center", "baseline": "middle", "fontSize": 15, "color": "#e8541c", "font": "Noto Sans CJK SC"},
         "encoding": {
          "x": {"field": "a", "type": "quantitative", "axis": null},
          "text": {"field": "lab"}
         }
        }
       ]
      },
      {
       "width": 1660, "height": 167,
       "data": {"name": "k"},
       "layer": [
        {
         "mark": {"type": "rule", "strokeWidth": 1},
         "encoding": {
          "x": {"field": "i", "type": "quantitative", "scale": {"domain": [-1.0303, 99.5758], "nice": false, "zero": false}, "axis": null},
          "y": {"field": "macd", "type": "quantitative", "scale": {"domain": [-0.00616, 0.00875], "nice": false, "zero": false}, "axis": null},
          "y2": {"datum": 0},
          "color": {"condition": {"test": "datum.macd > 0", "value": "#ff0000"}, "value": "#008000"}
         }
        },
        {
         "transform": [{"fold": ["dif","dea"], "as": ["s","v"]}],
         "mark": {"type": "line", "strokeWidth": 1.2, "clip": true},
         "encoding": {
          "x": {"field": "i", "type": "quantitative", "axis": null},
          "y": {"field": "v", "type": "quantitative", "axis": null},
          "color": {"field": "s", "type": "nominal", "scale": {"domain": ["dif","dea","blk","gry"], "range": ["#00008b","#ff5a00","#000000","#999999"]}, "legend": null}
         }
        },
        {
         "data": {"name": "max"},
         "mark": {"type": "rule", "color": "#8c8c8c", "strokeWidth": 1},
         "encoding": {
          "x": {"datum": 99.576, "type": "quantitative", "axis": null},
          "x2": {"datum": 99.818},
          "y": {"field": "v", "type": "quantitative", "axis": null}
         }
        },
        {
         "data": {"name": "max"},
         "mark": {"type": "text", "align": "center", "baseline": "middle", "fontSize": 14, "color": "#8c8c8c", "font": "Liberation Sans"},
         "encoding": {
          "x": {"datum": 101.394, "type": "quantitative", "axis": null},
          "y": {"field": "v", "type": "quantitative", "axis": null},
          "text": {"field": "t"}
         }
        },
        {
         "data": {"name": "mhdr"},
         "mark": {"type": "text", "align": "left", "baseline": "middle", "fontSize": 13},
         "encoding": {
          "x": {"field": "hx", "type": "quantitative", "axis": null},
          "y": {"field": "hy", "type": "quantitative", "axis": null},
          "text": {"field": "t"},
          "color": {"field": "k", "type": "nominal", "scale": {"domain": ["dif","dea","blk","gry"], "range": ["#00008b","#ff5a00","#000000","#999999"]}, "legend": null}
         }
        }
       ]
      }
     ]
    },
    {
     "width": 159, "height": 899,
     "layer": [
      {
       "data": {"values": [{"y": 24}, {"y": 48}, {"y": 72}, {"y": 96}, {"y": 297}]},
       "mark": {"type": "rule", "color": "#8c8c8c", "strokeWidth": 1.5},
       "encoding": {
        "y": {"field": "y", "type": "quantitative", "scale": {"domain": [0, 899], "reverse": true, "nice": false, "zero": false}, "axis": null}
       }
      },
      {
       "data": {"name": "pl"},
       "mark": {"type": "text", "align": "left", "baseline": "middle", "fontSize": 16, "clip": true},
       "encoding": {
        "x": {"field": "x", "type": "quantitative", "scale": {"domain": [0, 159], "nice": false, "zero": false}, "axis": null},
        "y": {"field": "y", "type": "quantitative", "axis": null},
        "text": {"field": "t"},
        "color": {"field": "k", "type": "nominal", "scale": {"domain": ["blk","up","dn","nv"], "range": ["#000000","#ff0000","#008000","#000050"]}, "legend": null}
       }
      },
      {
       "data": {"name": "pr"},
       "mark": {"type": "text", "align": "right", "baseline": "middle", "fontSize": 16, "clip": true},
       "encoding": {
        "x": {"field": "x", "type": "quantitative", "axis": null},
        "y": {"field": "y", "type": "quantitative", "axis": null},
        "text": {"field": "t"},
        "color": {"field": "k", "type": "nominal", "legend": null}
       }
      },
      {
       "data": {"name": "ticks"},
       "mark": {"type": "text", "align": "right", "baseline": "middle", "fontSize": 16, "clip": true, "color": "#000000"},
       "encoding": {
        "x": {"datum": 42, "type": "quantitative", "axis": null},
        "y": {"field": "y", "type": "quantitative", "axis": null},
        "text": {"field": "tm"}
       }
      },
      {
       "data": {"name": "ticks"},
       "mark": {"type": "text", "align": "left", "baseline": "middle", "fontSize": 16, "clip": true},
       "encoding": {
        "x": {"datum": 107, "type": "quantitative", "axis": null},
        "y": {"field": "y", "type": "quantitative", "axis": null},
        "text": {"field": "p"},
        "color": {"field": "k", "type": "nominal", "legend": null}
       }
      }
     ]
    }
   ]
  }
 ]
}
